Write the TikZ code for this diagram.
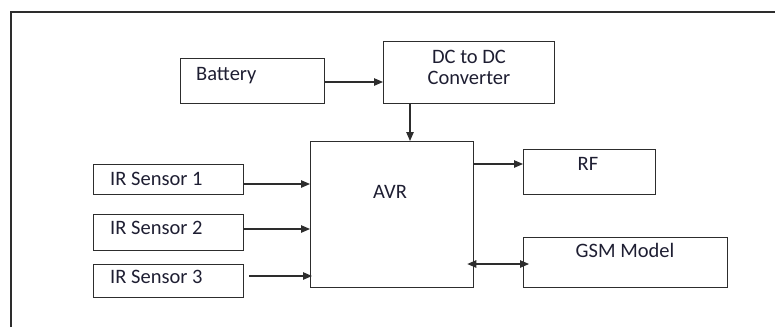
\documentclass[tikz,border=0pt]{standalone}
\usepackage{fontspec}
\setmainfont{Carlito}
\usetikzlibrary{arrows.meta}
\definecolor{ln}{RGB}{45,45,45}
\definecolor{tx}{RGB}{30,30,50}
\tikzset{
  box/.style={draw=ln, line width=1.3pt, rectangle, inner sep=0pt, anchor=north west},
  txt/.style={text=tx, font=\fontsize{20.5}{24}\selectfont, inner sep=0pt},
  arr/.style={draw=ln, line width=1.1pt, -{Triangle[length=9pt,width=7.5pt]}},
  darr/.style={draw=ln, line width=1.1pt, {Triangle[length=9pt,width=7.5pt]}-{Triangle[length=9pt,width=7.5pt]}},
}
\begin{document}
\begin{tikzpicture}[x=1pt,y=-1pt]
\useasboundingbox (0,0) rectangle (775,327);
\draw[ln, line width=1.3pt] (11,327) -- (11,12) -- (775,12);
% boxes
\node[box, minimum width=144pt, minimum height=45pt] (bat) at (180,58) {};
\node[box, minimum width=171pt, minimum height=62pt] (dc) at (383,41) {};
\node[box, minimum width=163pt, minimum height=146pt] (avr) at (310,141) {};
\node[box, minimum width=132pt, minimum height=45pt] (rf) at (523,149) {};
\node[box, minimum width=204pt, minimum height=50pt] (gsm) at (523,237) {};
\node[box, minimum width=150pt, minimum height=30pt] (ir1) at (93,164) {};
\node[box, minimum width=150pt, minimum height=36pt] (ir2) at (93,214) {};
\node[box, minimum width=150pt, minimum height=33pt] (ir3) at (93,264) {};
% texts
\node[txt, anchor=base west] (tbat) at (196,80) {Battery};
\node[txt, anchor=base] (tdc1) at (469,63) {DC to DC};
\node[txt, anchor=base] (tdc2) at (469,84) {Converter};
\node[txt, anchor=base] (tavr) at (390,198) {AVR};
\node[txt, anchor=base] (trf) at (588,170) {RF};
\node[txt, anchor=base] (tgsm) at (625,257) {GSM Model};
\node[txt, anchor=base west] (tir1) at (110,185) {IR Sensor 1};
\node[txt, anchor=base west] (tir2) at (110,234) {IR Sensor 2};
\node[txt, anchor=base west] (tir3) at (110,283) {IR Sensor 3};
% connector helper coordinates
\coordinate (yb) at (0,82);
\coordinate (xd) at (410,0);
\coordinate (yr) at (0,164);
\coordinate (yg) at (0,264);
\coordinate (y1) at (0,184);
\coordinate (y2) at (0,229);
\coordinate (y3) at (0,276);
% connectors
\draw[arr] (bat.east |- yb) -- (dc.west |- yb);
\draw[arr] (dc.south -| xd) -- (avr.north -| xd);
\draw[arr] (avr.east |- yr) -- (rf.west |- yr);
\draw[darr, shorten <=-7pt, shorten >=-6pt] (avr.east |- yg) -- (gsm.west |- yg);
\draw[arr] (ir1.east |- y1) -- (avr.west |- y1);
\draw[arr] (ir2.east |- y2) -- (avr.west |- y2);
\draw[arr, shorten <=5pt, shorten >=-2pt] (ir3.east |- y3) -- (avr.west |- y3);
\end{tikzpicture}
\end{document}
